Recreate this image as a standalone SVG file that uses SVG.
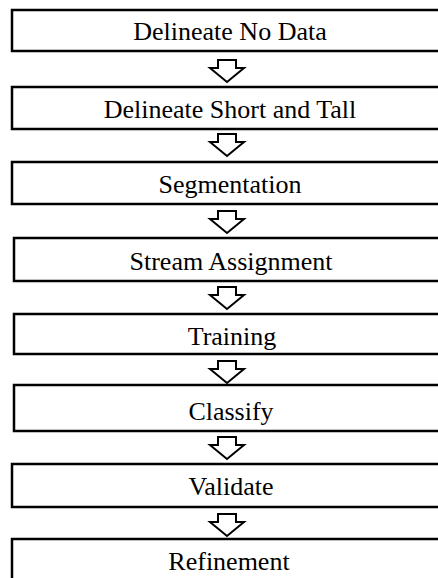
<svg xmlns="http://www.w3.org/2000/svg" width="438" height="578" viewBox="0 0 438 578">
<style>
.box{fill:#fff;stroke:#000;stroke-width:2.5}
.lbl{font-family:'Liberation Serif','Times New Roman',Times,serif;font-size:26px;fill:#000;text-anchor:middle}
.arr{fill:#fff;stroke:#000;stroke-width:2;stroke-linejoin:miter}
</style>
<defs>
<path id="arrow" class="arr" d="M-9,0 H9 V8 H17 L0,22 L-17,8 H-9 Z"/>
</defs>
<rect width="438" height="578" fill="#fff"/>
<g id="connectors">
<use href="#arrow" x="227" y="60"/>
<use href="#arrow" x="227" y="134"/>
<use href="#arrow" x="227" y="211"/>
<use href="#arrow" x="227" y="287"/>
<use href="#arrow" x="227" y="361"/>
<use href="#arrow" x="227" y="437"/>
<use href="#arrow" x="227" y="514"/>
</g>
<g id="n1"><rect class="box" x="12" y="10" width="440" height="41"/><text class="lbl" x="230" y="40">Delineate No Data</text></g>
<g id="n2"><rect class="box" x="12" y="87" width="440" height="42"/><text class="lbl" x="230" y="118">Delineate Short and Tall</text></g>
<g id="n3"><rect class="box" x="12" y="162" width="440" height="42"/><text class="lbl" x="230" y="193">Segmentation</text></g>
<g id="n4"><rect class="box" x="14" y="238" width="440" height="43"/><text class="lbl" x="231" y="270">Stream Assignment</text></g>
<g id="n5"><rect class="box" x="14" y="314" width="440" height="40"/><text class="lbl" x="232" y="345">Training</text></g>
<g id="n6"><rect class="box" x="14" y="385" width="440" height="46"/><text class="lbl" x="231" y="420">Classify</text></g>
<g id="n7"><rect class="box" x="12" y="464" width="440" height="43"/><text class="lbl" x="231" y="495">Validate</text></g>
<g id="n8"><rect class="box" x="12" y="539" width="440" height="60"/><text class="lbl" x="229" y="570">Refinement</text></g>
</svg>
